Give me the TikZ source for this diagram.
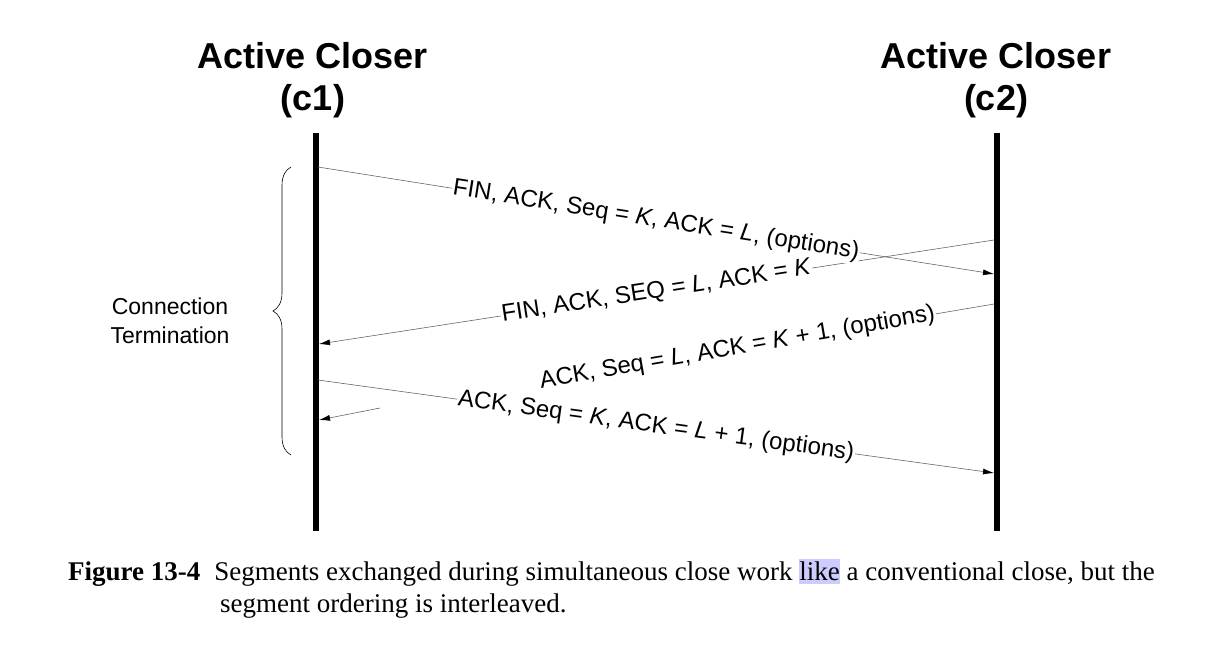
\documentclass[tikz,border=0pt]{standalone}
\usepackage{fontspec}
\setmainfont{Liberation Serif}
\newfontfamily\arial{Liberation Sans}
\usetikzlibrary{decorations.pathreplacing,arrows.meta}
\begin{document}
\begin{tikzpicture}[x=1pt,y=-1pt,
  life/.style={line width=6pt},
  thin/.style={draw=gray!80!black,line width=0.6pt},
  msg/.style={thin,-{Latex[length=11pt,width=6pt,black]}},
  lbl/.style={font=\arial\fontsize{24}{26}\selectfont,fill=white,inner sep=1pt,sloped},
  ttl/.style={font=\arial\bfseries\fontsize{36}{42}\selectfont,align=center}]
\useasboundingbox (0,0) rectangle (1212,670);
\node[ttl] (t1) at (313,80) {Active Closer\\(c1)};
\node[ttl] (t2) at (996,80) {Active Closer\\(c2)};
\coordinate (a1) at (316,133); \coordinate (a2) at (316,531);
\coordinate (b1) at (997,133); \coordinate (b2) at (997,531);
\draw[life] (a1) -- (a2);
\draw[life] (b1) -- (b2);
\coordinate (s1) at (318,167); \coordinate (e1) at (994,274);
\coordinate (s2) at (994,240); \coordinate (e2) at (319,344);
\coordinate (s3) at (994,304); \coordinate (m3) at (560,377.6);
\coordinate (r3) at (380,408); \coordinate (e3) at (319,420);
\coordinate (s4) at (318,380); \coordinate (e4) at (994,473);
\draw[msg] (s1) -- (e1);
\draw[msg] (s2) -- (e2);
\draw[thin] (s3) -- (m3);
\draw[msg] (r3) -- (e3);
\draw[msg] (s4) -- (e4);
\path (s1) -- (e1) node[lbl,pos=0.5] (l1) {FIN, ACK, Seq = \textit{K}, ACK = \textit{L}, (options)};
\path (s2) -- (e2) node[lbl,pos=0.5] (l2) {FIN, ACK, SEQ = \textit{L}, ACK = \textit{K}};
\path (s4) -- (e4) node[lbl,pos=0.5] (l4) {ACK, Seq = \textit{K}, ACK = \textit{L} + 1, (options)};
\path (s3) -- (e3) node[lbl,pos=0.38] (l3) {ACK, Seq = \textit{L}, ACK = \textit{K} + 1, (options)};
\draw[line width=0.6pt,decorate,decoration={brace,amplitude=18pt}] (291,455) -- (291,167);
\node[font=\arial\fontsize{23}{29}\selectfont,align=center] (ct) at (170,321) {Connection\\Termination};
\node[anchor=north west,font=\fontsize{27}{32}\selectfont,align=left,inner sep=0pt] (cap) at (68,559)
 {\textbf{Figure 13-4}\hspace{14pt}Segments exchanged during simultaneous close work \colorbox{blue!20}{\kern-3pt like\kern-3pt} a conventional close, but the\\
 \hspace*{152pt}segment ordering is interleaved.};
\end{tikzpicture}
\end{document}
